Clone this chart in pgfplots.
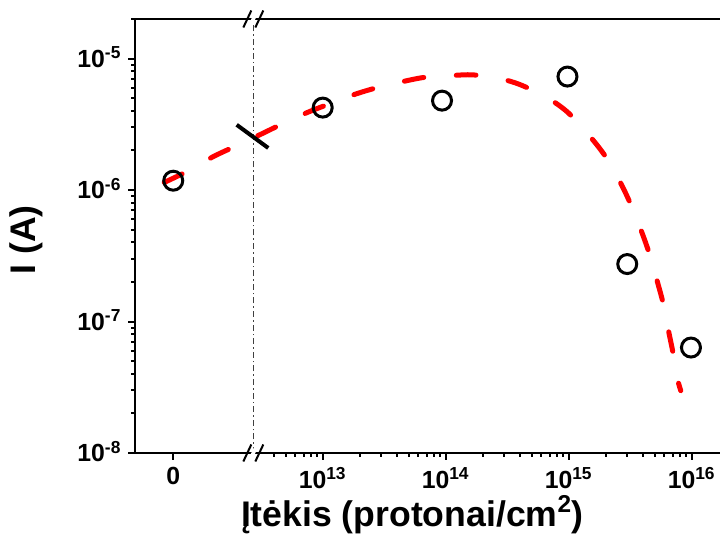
\documentclass[border=0pt]{standalone}
\usepackage{pgfplots}
\pgfplotsset{compat=1.18}
\usepackage{fontspec}
\setmainfont{Liberation Sans}
% x = log10(fluence, protons/cm^2) (the "0" sample is drawn at 11.785, left of the axis break)
% y = log10(I / A)
\pgfplotstableread{
x       y
11.785  -5.929
13.000  -5.373
13.970  -5.320
14.990  -5.137
15.476  -6.563
15.994  -7.198
}\measured
\pgfplotstableread{
x       y
11.712  -5.942
11.899  -5.858
12.106  -5.748
12.287  -5.668
12.490  -5.579
12.675  -5.495
12.878  -5.409
13.059  -5.343
13.271  -5.269
13.444  -5.221
13.661  -5.173
13.834  -5.142
14.049  -5.129
14.220  -5.124
14.436  -5.152
14.604  -5.198
14.821  -5.295
14.997  -5.413
15.195  -5.617
15.322  -5.777
15.436  -5.972
15.517  -6.137
15.602  -6.340
15.661  -6.500
15.724  -6.708
15.769  -6.866
15.810  -7.064
15.846  -7.229
15.883  -7.431
15.911  -7.526
}\fit
\newcommand{\tsup}[1]{\textsuperscript{#1}}
\begin{document}
\begin{tikzpicture}
\path[use as bounding box] (-67.75pt,-45.5pt) rectangle (292.25pt,226.5pt);
\begin{axis}[
  at={(0,0)}, anchor=south west,
  scale only axis, width=292.25pt, height=217pt,
  xmin=11.478, xmax=16.23, ymin=-8, ymax=-4.699,
  axis x line*=box, axis y line*=left,
  axis line style={line width=1pt},
  tick align=outside, xtick pos=bottom,
  major tick length=3.5pt, minor tick length=2pt,
  every tick/.style={black, line width=1pt},
  xtick={11.785,13,14,15,16},
  xticklabels={0,10\tsup{13},10\tsup{14},10\tsup{15},10\tsup{16}},
  minor xtick={12.602,12.699,12.778,12.845,12.903,12.954,
               13.301,13.477,13.602,13.699,13.778,13.845,13.903,13.954,
               14.301,14.477,14.602,14.699,14.778,14.845,14.903,14.954,
               15.301,15.477,15.602,15.699,15.778,15.845,15.903,15.954},
  ytick={-8,-7,-6,-5},
  yticklabels={10\tsup{-8},10\tsup{-7},10\tsup{-6},10\tsup{-5}},
  minor ytick={-7.699,-7.523,-7.398,-7.301,-7.222,-7.155,-7.097,-7.046,
               -6.699,-6.523,-6.398,-6.301,-6.222,-6.155,-6.097,-6.046,
               -5.699,-5.523,-5.398,-5.301,-5.222,-5.155,-5.097,-5.046,
               -4.699},
  ticklabel style={font=\fontsize{12.4}{14}\selectfont\bfseries},
  xticklabel style={yshift=-2pt, inner sep=1.5pt},
  yticklabel style={anchor=base east, yshift=-4.4pt},
  every axis y label/.style={at={(axis description cs:-0.1873,0.4908)}, rotate=90, anchor=center},
  every axis x label/.style={at={(axis description cs:0.473,-0.1705)}, anchor=base, inner sep=0pt},
  label style={font=\fontsize{17.8}{20}\selectfont\bfseries},
  xlabel={Įtėkis (protonai/cm\raisebox{0.4em}{\fontsize{12.2}{12.2}\selectfont\bfseries 2})},
  ylabel={I (A)},
  clip=false,
]
% break line
\draw[line width=0.5pt, color=black!75, dash pattern=on 3pt off 1.5pt on 0.8pt off 1.5pt]
  (axis cs:12.436,-8) -- (axis cs:12.436,-4.699);
% fit curve
\addplot[color=red, line width=2.5pt, line cap=round, dash pattern=on 9.85pt off 16.3pt, smooth]
  table[x=x, y=y] {\fit};
% measured points
\addplot[only marks, mark=o, mark size=4.75pt, line width=1.5pt, color=black]
  table[x=x, y=y] {\measured};
% break mark on the curve
\draw[line width=2pt, black, shift={(axis cs:12.429,-5.592)}] (-7.9pt,5.8pt) -- (7.9pt,-5.8pt);
% axis break marks (bottom)
\fill[white, shift={(axis cs:12.436,-8)}] (-3pt,-4.25pt) -- (1pt,4.25pt) -- (3pt,4.25pt) -- (-1pt,-4.25pt) -- cycle;
\draw[line width=1pt, black, shift={(axis cs:12.436,-8)}] (-5pt,-4.25pt) -- (-1pt,4.25pt) (1pt,-4.25pt) -- (5pt,4.25pt);
% axis break marks (top)
\fill[white, shift={(axis cs:12.436,-4.699)}] (-3pt,-4.25pt) -- (1pt,4.25pt) -- (3pt,4.25pt) -- (-1pt,-4.25pt) -- cycle;
\draw[line width=1pt, black, shift={(axis cs:12.436,-4.699)}] (-5pt,-4.25pt) -- (-1pt,4.25pt) (1pt,-4.25pt) -- (5pt,4.25pt);
\end{axis}
\end{tikzpicture}
\end{document}
